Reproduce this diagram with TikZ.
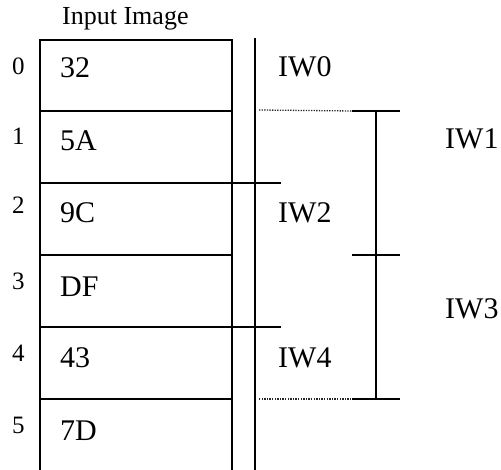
\documentclass[tikz,border=0pt]{standalone}
\usepackage{fontspec}
\setmainfont{Liberation Serif}
\begin{document}
\begin{tikzpicture}[x=1pt,y=-1pt,
  boxline/.style={line width=1.8pt,line cap=rect},
  thinline/.style={line width=1.5pt},
  dotline/.style={line width=1.3pt,dash pattern=on 1.3pt off 1.3pt,black!85},
  cell/.style={anchor=base west,inner sep=0pt,font=\fontsize{30}{30}\selectfont},
  idx/.style={anchor=base west,inner sep=0pt,font=\fontsize{25}{25}\selectfont},
  iw/.style={anchor=base west,inner sep=0pt,font=\fontsize{30}{30}\selectfont}]
\useasboundingbox (0,0) rectangle (501,470);
% title
\node[anchor=base west,inner sep=0pt,font=\fontsize{26}{26}\selectfont] (title) at (62,25) {Input Image};
% box
\draw[boxline] (40,470) -- (40,40) -- (232,40) -- (232,470);
\draw[boxline] (40,111) -- (232,111);
\draw[boxline] (40,183) -- (280,183);
\draw[boxline] (40,255) -- (232,255);
\draw[boxline] (40,327) -- (280,327);
\draw[boxline] (40,399) -- (232,399);
% vertical divider
\draw[thinline] (255,38) -- (255,470);
% cells
\node[cell] (c0) at (60,78) {32};
\node[cell] (c1) at (60,151) {5A};
\node[cell] (c2) at (60,223) {9C};
\node[cell] (c3) at (60,297) {DF};
\node[cell] (c4) at (60,368) {43};
\node[cell] (c5) at (60,440) {7D};
% indices
\node[idx] (i0) at (12,75) {0};
\node[idx] (i1) at (12,145) {1};
\node[idx] (i2) at (12,214) {2};
\node[idx] (i3) at (12,290) {3};
\node[idx] (i4) at (12,362) {4};
\node[idx] (i5) at (12,433) {5};
% IW labels
\node[iw] (w0) at (278,77) {IW0};
\node[iw] (w1) at (445,149) {IW1};
\node[iw] (w2) at (278,223) {IW2};
\node[iw] (w3) at (445,319) {IW3};
\node[iw] (w4) at (278,368) {IW4};
% bracket
\coordinate (d1a) at (259,110);
\coordinate (d1b) at (352,111);
\coordinate (d2a) at (259,399);
\coordinate (d2b) at (352,399);
\draw[dotline] (d1a) -- (d1b);
\draw[dotline] (d2a) -- (d2b);
\draw[thinline] (352,111) -- (400,111);
\draw[thinline] (352,255) -- (400,255);
\draw[thinline] (352,399) -- (400,399);
\draw[thinline] (376,111) -- (376,399);
\end{tikzpicture}
\end{document}
